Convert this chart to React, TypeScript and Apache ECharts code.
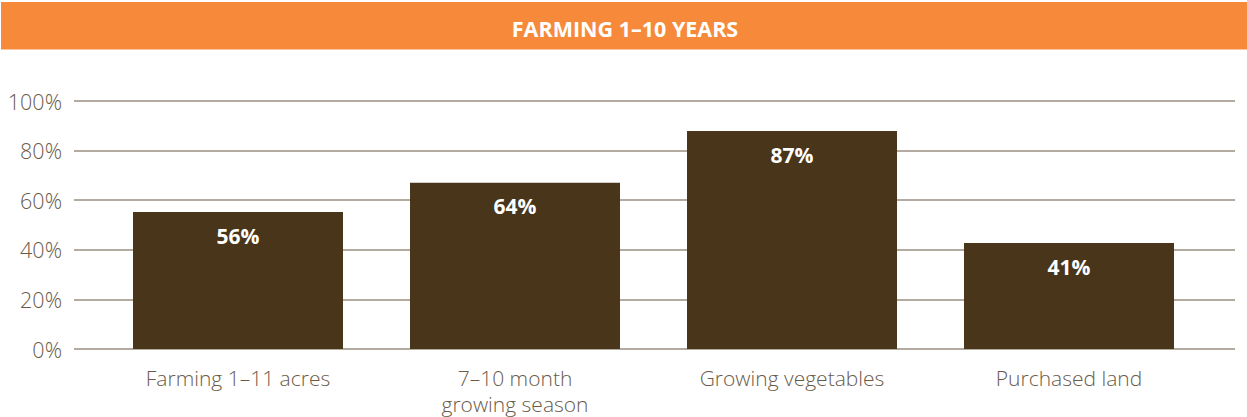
import React, { useEffect, useRef } from "react";
import * as echarts from "echarts";

const title = "FARMING 1–10 YEARS";
const categories = ["Farming 1–11 acres", "7–10 month\ngrowing season", "Growing vegetables", "Purchased land"];
const barValues = [55.2, 67.0, 87.9, 42.7];
const barLabels = ["56%", "64%", "87%", "41%"];
const yTicks = [0, 20, 40, 60, 80, 100];

export default function App() {
  const ref = useRef<HTMLDivElement>(null);
  useEffect(() => {
    document.body.style.margin = "0";
    const chart = echarts.init(ref.current!, null, { renderer: "svg" });
    const brown = "#48351a";
    const textColor = "#6a5b49";
    const gridColor = "#9a8f80";
    chart.setOption({
      animation: false,
      backgroundColor: "#ffffff",
      graphic: [
        { type: "rect", shape: { x: 1, y: 2, width: 1246, height: 47.5 }, style: { fill: "#f68a3a" }, z: 0 },
        {
          type: "text",
          x: 625,
          y: 28,
          style: {
            text: title,
            fill: "#ffffff",
            font: "bold 21.5px 'Open Sans', sans-serif",
            textAlign: "center",
            textVerticalAlign: "middle",
          },
          z: 1,
        },
      ],
      grid: [
        { left: 74, right: 12, top: 101, bottom: 68 },
        { left: 99.5, right: 39.5, top: 101, bottom: 68 },
      ],
      xAxis: [
        { gridIndex: 0, type: "value", min: 0, max: 1, show: false },
        {
          gridIndex: 1,
          type: "category",
          data: categories,
          axisLine: { show: false },
          axisTick: { show: false },
          axisLabel: {
            color: textColor,
            fontFamily: "'Open Sans', sans-serif",
            fontWeight: 300,
            fontSize: 21,
            margin: 16,
            lineHeight: 26,
            interval: 0,
          },
        },
      ],
      yAxis: [
        {
          gridIndex: 0,
          type: "value",
          min: yTicks[0],
          max: yTicks[yTicks.length - 1],
          interval: 20,
          axisLine: { show: false },
          axisTick: { show: false },
          axisLabel: {
            color: textColor,
            fontFamily: "'Open Sans', sans-serif",
            fontWeight: 300,
            fontSize: 21.5,
            margin: 12,
            formatter: (v: number) => v + "%",
          },
          splitLine: { show: true, lineStyle: { color: gridColor, width: 1.5 } },
        },
        { gridIndex: 1, type: "value", min: 0, max: 100, show: false },
      ],
      series: [
        {
          type: "bar",
          xAxisIndex: 1,
          yAxisIndex: 1,
          data: barValues,
          barWidth: 210,
          itemStyle: { color: brown },
          label: {
            show: true,
            position: "insideTop",
            distance: 13,
            color: "#ffffff",
            fontFamily: "'Open Sans', sans-serif",
            fontWeight: "bold",
            fontSize: 21,
            formatter: (p: any) => barLabels[p.dataIndex],
          },
        },
      ],
    });
    return () => chart.dispose();
  }, []);
  return <div ref={ref} style={{ width: 1247, height: 417, position: "absolute", left: 0, top: 0 }} />;
}
